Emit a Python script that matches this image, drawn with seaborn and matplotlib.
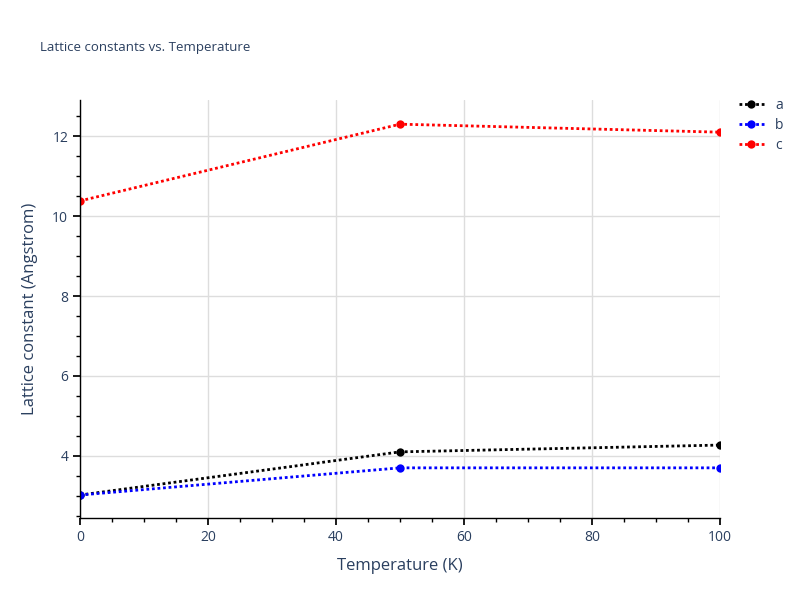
import pandas as pd
import seaborn as sns
import matplotlib.pyplot as plt

# Data
temperature = [0, 50, 100]
a_vals = [3.02, 4.10, 4.27]
b_vals = [3.02, 3.70, 3.70]
c_vals = [10.38, 12.30, 12.10]

df = pd.DataFrame({"T": temperature * 3,
                   "value": a_vals + b_vals + c_vals,
                   "param": ["a"] * 3 + ["b"] * 3 + ["c"] * 3})

sns.set_theme(style="white")
plt.rcParams["font.family"] = ["Open Sans", "DejaVu Sans"]

fig = plt.figure(figsize=(8, 6), dpi=100)
ax = fig.add_axes([0.1, 0.137, 0.8, 0.696])

sns.lineplot(data=df, x="T", y="value", hue="param",
             palette={"a": "black", "b": "blue", "c": "red"},
             marker="o", markersize=6, markeredgewidth=0,
             linestyle=(0, (1, 1)), linewidth=2, ax=ax)

ax.set_xlim(0, 100)
ax.set_ylim(2.45, 12.9)
ax.set_xticks([0, 20, 40, 60, 80, 100])
ax.set_yticks([4, 6, 8, 10, 12])
ax.set_xticks(range(5, 100, 5), minor=True)
ax.set_yticks([2.5, 3, 3.5, 4.5, 5, 5.5, 6.5, 7, 7.5, 8.5, 9, 9.5, 10.5, 11, 11.5, 12.5], minor=True)
ax.grid(True, which="major", color="#dddddd", linewidth=1)
for s in ["top", "right"]:
    ax.spines[s].set_visible(False)
for s in ["left", "bottom"]:
    ax.spines[s].set_color("black")
    ax.spines[s].set_linewidth(1)
ax.tick_params(which="major", direction="out", length=5, color="black",
               labelsize=10, labelcolor="#2a3f5f", left=True, bottom=True)
ax.tick_params(which="minor", direction="out", length=3, color="black",
               left=True, bottom=True)

ax.set_xlabel("Temperature (K)", fontsize=12, color="#2a3f5f", labelpad=10)
ax.set_ylabel("Lattice constant (Angstrom)", fontsize=12, color="#2a3f5f", labelpad=10)
fig.text(0.05, 0.915, "Lattice constants vs. Temperature", fontsize=9.5, color="#2a3f5f")

leg = ax.legend(loc="upper left", bbox_to_anchor=(1.01, 1.035), frameon=False,
                title=None, fontsize=10, handlelength=1.8, labelspacing=0.35)
for t in leg.get_texts():
    t.set_color("#2a3f5f")

plt.savefig("out.png", dpi=100)
